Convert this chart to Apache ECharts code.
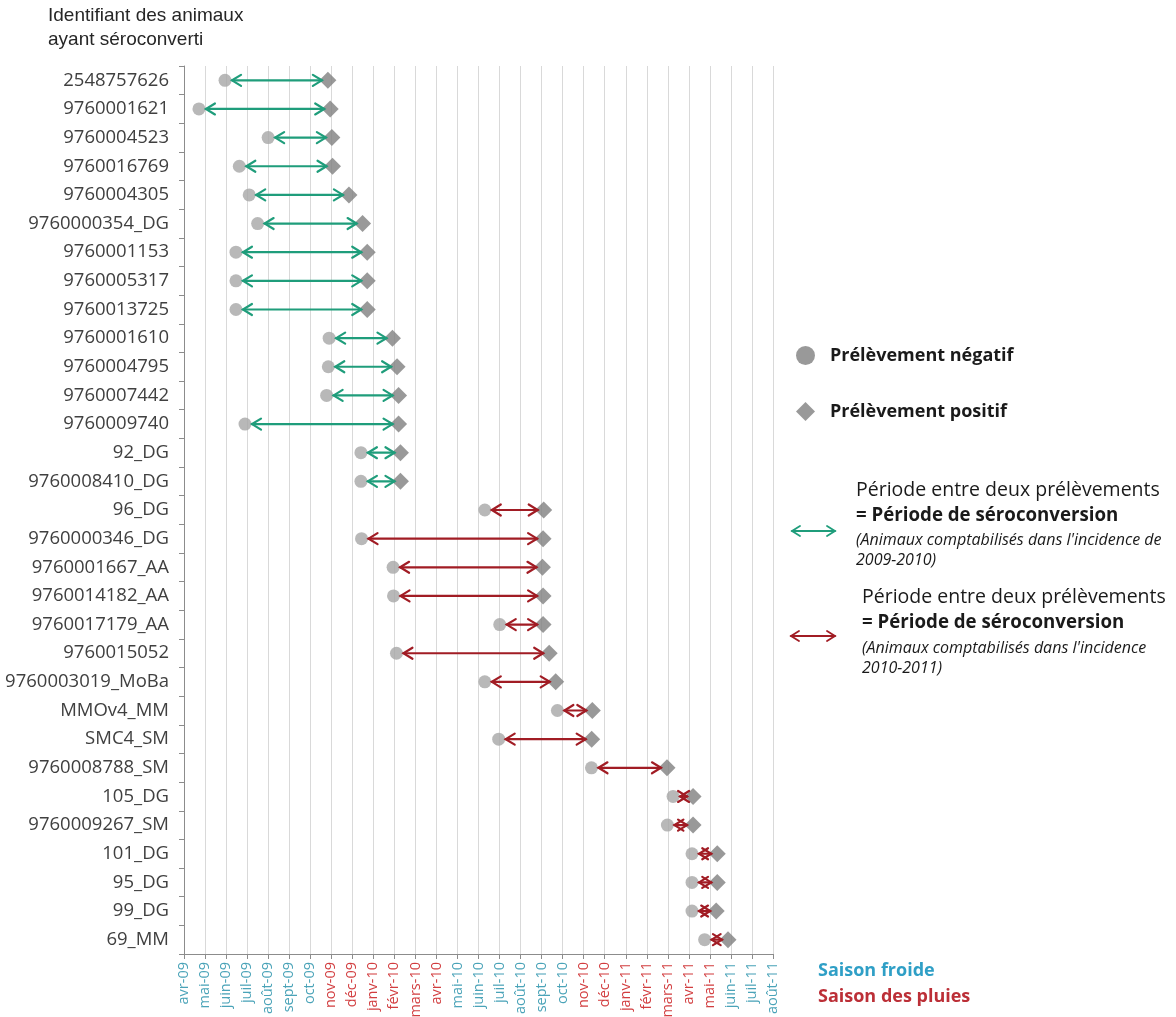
<!DOCTYPE html>
<html lang="fr">
<head>
<meta charset="utf-8">
<title>Périodes de séroconversion</title>
<script src="https://cdn.jsdelivr.net/npm/echarts@6/dist/echarts.min.js"></script>
<style>
  html, body { margin: 0; padding: 0; background: #ffffff; }
  #chart { width: 1176px; height: 1017px; }
</style>
</head>
<body>
<div id="chart"></div>
<script>
// Identifiants des animaux ayant séroconverti (de haut en bas)
const animalIds = [
  '2548757626', '9760001621', '9760004523', '9760016769', '9760004305',
  '9760000354_DG', '9760001153', '9760005317', '9760013725', '9760001610',
  '9760004795', '9760007442', '9760009740', '92_DG', '9760008410_DG',
  '96_DG', '9760000346_DG', '9760001667_AA', '9760014182_AA', '9760017179_AA',
  '9760015052', '9760003019_MoBa', 'MMOv4_MM', 'SMC4_SM', '9760008788_SM',
  '105_DG', '9760009267_SM', '101_DG', '95_DG', '99_DG', '69_MM'
];

// Date du dernier prélèvement négatif (mois écoulés depuis le 1er avril 2009)
const negativeSample = [
  1.95, 0.71, 4.0, 2.63, 3.1, 3.5, 2.47, 2.47, 2.47, 6.9,
  6.86, 6.78, 2.9, 8.41, 8.41, 14.3, 8.44, 9.94, 9.96, 15.01,
  10.1, 14.3, 17.75, 14.96, 19.37, 23.25, 22.98, 24.15, 24.15, 24.15, 24.75
];

// Date du premier prélèvement positif (mois écoulés depuis le 1er avril 2009)
const positiveSample = [
  6.84, 6.95, 7.03, 7.06, 7.84, 8.49, 8.71, 8.71, 8.71, 9.91,
  10.13, 10.2, 10.2, 10.29, 10.29, 17.1, 17.07, 17.04, 17.07, 17.07,
  17.36, 17.67, 19.41, 19.38, 22.96, 24.2, 24.2, 25.35, 25.35, 25.3, 25.86
];

// Année d'incidence dans laquelle chaque animal est comptabilisé
const incidenceYear = [
  '2009-2010', '2009-2010', '2009-2010', '2009-2010', '2009-2010',
  '2009-2010', '2009-2010', '2009-2010', '2009-2010', '2009-2010',
  '2009-2010', '2009-2010', '2009-2010', '2009-2010', '2009-2010',
  '2010-2011', '2010-2011', '2010-2011', '2010-2011', '2010-2011',
  '2010-2011', '2010-2011', '2010-2011', '2010-2011', '2010-2011',
  '2010-2011', '2010-2011', '2010-2011', '2010-2011', '2010-2011', '2010-2011'
];

// Graduations mensuelles de l'axe du temps
const monthLabels = [
  'avr-09', 'mai-09', 'juin-09', 'juil-09', 'août-09', 'sept-09', 'oct-09',
  'nov-09', 'déc-09', 'janv-10', 'févr-10', 'mars-10', 'avr-10',
  'mai-10', 'juin-10', 'juil-10', 'août-10', 'sept-10', 'oct-10',
  'nov-10', 'déc-10', 'janv-11', 'févr-11', 'mars-11', 'avr-11', 'mai-11',
  'juin-11', 'juil-11', 'août-11'
];

// Saison de chaque mois : 'froide' ou 'pluies'
const monthSeason = [
  'froide', 'froide', 'froide', 'froide', 'froide', 'froide', 'froide',
  'pluies', 'pluies', 'pluies', 'pluies', 'pluies', 'pluies',
  'froide', 'froide', 'froide', 'froide', 'froide', 'froide',
  'pluies', 'pluies', 'pluies', 'pluies', 'pluies', 'pluies', 'pluies',
  'froide', 'froide', 'froide'
];

const ARROW_COLORS = { '2009-2010': '#1f9d7b', '2010-2011': '#a11c24' };
const SEASON_COLORS = { froide: '#4aa3b8', pluies: '#d23d3f' };
const FONT = '"Open Sans", "Noto Sans", sans-serif';

const negativePoints = animalIds.map((id, i) => [negativeSample[i], i]);
const positivePoints = animalIds.map((id, i) => [positiveSample[i], i]);
const periodRows = animalIds.map((id, i) => [i, negativeSample[i], positiveSample[i], incidenceYear[i]]);

// Double arrow shape: shaft plus two open heads
function doubleArrow(x1, x2, y, color, head, half, lw) {
  const style = { stroke: color, lineWidth: lw, fill: null, lineJoin: 'miter', lineCap: 'round' };
  return [
    { type: 'line', shape: { x1: x1, y1: y, x2: x2, y2: y }, style: style },
    { type: 'polyline', shape: { points: [[x1 + head, y - half], [x1, y], [x1 + head, y + half]] }, style: style },
    { type: 'polyline', shape: { points: [[x2 - head, y - half], [x2, y], [x2 - head, y + half]] }, style: style }
  ];
}

function renderPeriod(params, api) {
  const row = api.value(0);
  const start = api.coord([api.value(1), row]);
  const end = api.coord([api.value(2), row]);
  const year = incidenceYear[params.dataIndex];
  const x1 = start[0] + 7;
  const x2 = end[0] - 6;
  return { type: 'group', children: doubleArrow(x1, x2, start[1], ARROW_COLORS[year], 9, 5.5, 2.2) };
}

const seasonRich = {};
Object.keys(SEASON_COLORS).forEach(k => {
  seasonRich[k] = { color: SEASON_COLORS[k], fontFamily: FONT, fontSize: 14.5 };
});

const chart = echarts.init(document.getElementById('chart'), null, { renderer: 'canvas' });

const legendArrowGroup = (x1, x2, y, color) => ({
  type: 'group',
  children: doubleArrow(x1, x2, y, color, 8, 5, 1.8)
});

const legendText = (x, y, text, font, color) => ({
  type: 'text',
  x: x, y: y,
  style: { text: text, font: font, fill: color || '#1a1a1a', verticalAlign: 'middle', align: 'left' }
});

chart.setOption({
  backgroundColor: '#ffffff',
  animation: false,
  title: {
    text: 'Identifiant des animaux\nayant séroconverti',
    left: 48, top: 4, padding: 0,
    textStyle: {
      fontFamily: '"Liberation Sans", Arial, sans-serif',
      fontSize: 19, fontWeight: 'normal', color: '#262626', lineHeight: 24
    }
  },
  legend: {
    orient: 'vertical',
    left: 791, top: 341,
    itemWidth: 19, itemHeight: 19,
    itemGap: 37,
    textStyle: { fontFamily: FONT, fontSize: 18, fontWeight: 'bold', color: '#1a1a1a', lineHeight: 19, padding: [0, 0, 0, 10] },
    data: [
      { name: 'Prélèvement négatif', icon: 'circle', itemStyle: { color: '#808080' } },
      { name: 'Prélèvement positif', icon: 'diamond', itemStyle: { color: '#808080' } }
    ],
    selectedMode: false
  },
  grid: { left: 184, right: 403, top: 66, bottom: 63, containLabel: false, outerBoundsMode: 'none' },
  xAxis: {
    type: 'value',
    min: 0, max: 28, interval: 1,
    axisLine: { show: true, lineStyle: { color: '#8c8c8c', width: 1 } },
    axisTick: { show: true, length: 5, lineStyle: { color: '#8c8c8c' } },
    splitLine: { show: true, lineStyle: { color: '#d9d9d9', width: 1 } },
    axisLabel: {
      rotate: 90, margin: 8,
      formatter: v => {
        const i = Math.round(v);
        return monthLabels[i] ? '{' + monthSeason[i] + '|' + monthLabels[i] + '}' : '';
      },
      rich: seasonRich
    }
  },
  yAxis: {
    type: 'category',
    inverse: true,
    data: animalIds,
    boundaryGap: true,
    axisLine: { show: true, lineStyle: { color: '#8c8c8c', width: 1 } },
    axisTick: { show: true, length: 5, alignWithLabel: false, lineStyle: { color: '#8c8c8c' } },
    splitLine: { show: false },
    axisLabel: { margin: 15, fontFamily: FONT, fontSize: 18.5, color: '#404040' }
  },
  series: [
    {
      name: 'Prélèvement négatif',
      type: 'scatter',
      data: negativePoints,
      symbol: 'circle',
      symbolSize: 13,
      itemStyle: { color: '#a6a6a6' },
      z: 2
    },
    {
      name: 'Prélèvement positif',
      type: 'scatter',
      data: positivePoints,
      symbol: 'diamond',
      symbolSize: 17,
      itemStyle: { color: '#7f7f7f' },
      z: 2
    },
    {
      name: 'Période de séroconversion',
      type: 'custom',
      data: periodRows,
      encode: { x: [1, 2], y: 0 },
      renderItem: renderPeriod,
      z: 3
    }
  ],
  graphic: [
    legendArrowGroup(792, 835, 531, ARROW_COLORS['2009-2010']),
    legendText(856, 490, 'Période entre deux prélèvements', '19.5px ' + FONT),
    legendText(856, 516, '= Période de séroconversion', 'bold 18.7px ' + FONT),
    legendText(856, 540, "(Animaux comptabilisés dans l'incidence de", 'italic 16px ' + FONT),
    legendText(856, 560, '2009-2010)', 'italic 16px ' + FONT),

    legendArrowGroup(791, 835, 636, ARROW_COLORS['2010-2011']),
    legendText(862, 597, 'Période entre deux prélèvements', '19.5px ' + FONT),
    legendText(862, 623, '= Période de séroconversion', 'bold 18.7px ' + FONT),
    legendText(862, 648, "(Animaux comptabilisés dans l'incidence", 'italic 16px ' + FONT),
    legendText(862, 668, '2010-2011)', 'italic 16px ' + FONT),

    legendText(818, 971, 'Saison froide', 'bold 18px ' + FONT, '#2f9fc6'),
    legendText(818, 997, 'Saison des pluies', 'bold 18px ' + FONT, '#bc2f37')
  ]
});
</script>
</body>
</html>
